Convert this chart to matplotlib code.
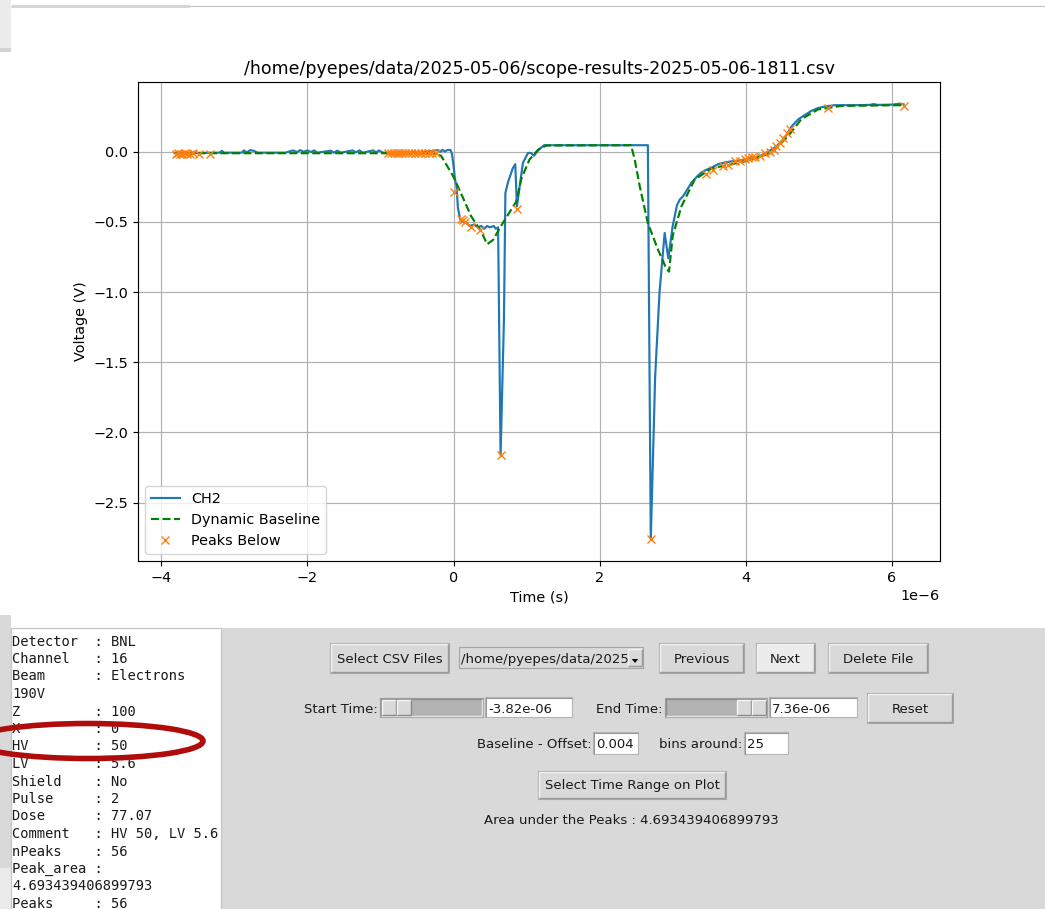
import numpy as np
import matplotlib
matplotlib.use("Agg")
import matplotlib.pyplot as plt
from matplotlib.patches import Rectangle, Ellipse, Polygon

# ---------------------------------------------------------------- data
file_name = "/home/pyepes/data/2025-05-06/scope-results-2025-05-06-1811.csv"

# CH2 waveform (time in microseconds, voltage in V)
ch2_t_us = [-3.82, -3.70, -3.55, -3.40, -3.20, -3.17, -3.14, -2.90, -2.87, -2.83,
            -2.78, -2.73, -2.68, -2.30, -2.20, -2.14, -2.10, -2.05, -2.00, -1.95,
            -1.91, -1.86, -1.68, -1.64, -1.59, -1.54, -1.38, -1.34, -1.29, -1.24,
            -1.10, -1.06, -1.02, -0.97, -0.60, -0.40, -0.22, -0.18, -0.15, -0.12,
            -0.08, -0.04, -0.02, 0.00, 0.02, 0.04, 0.06, 0.09, 0.12, 0.18,
            0.22, 0.28, 0.33, 0.38, 0.42, 0.46, 0.50, 0.55, 0.58, 0.61,
            0.644, 0.69, 0.71, 0.745, 0.81, 0.845, 0.868, 0.95, 1.02, 1.06,
            1.10, 1.16, 1.24, 2.66, 2.70, 2.76, 2.82, 2.89, 2.94, 3.00,
            3.06, 3.10, 3.14, 3.20, 3.26, 3.33, 3.39, 3.46, 3.55, 3.62,
            3.70, 3.80, 3.90, 3.99, 4.10, 4.20, 4.31, 4.40, 4.49, 4.56,
            4.63, 4.72, 4.81, 4.90, 4.99, 5.10, 5.22, 5.50, 5.70, 5.75,
            5.80, 6.00, 6.10, 6.16]
ch2_v = [-0.010, -0.008, -0.010, -0.009, -0.008, 0.005, -0.008, -0.008, 0.008, -0.006,
         0.010, 0.004, -0.008, -0.008, 0.008, -0.004, 0.010, -0.002, 0.008, -0.004,
         0.008, -0.008, 0.006, -0.008, 0.006, -0.008, 0.008, -0.006, 0.008, -0.008,
         0.008, -0.006, 0.008, -0.008, -0.006, -0.005, 0.010, -0.002, 0.012, 0.000,
         0.012, 0.010, -0.020, -0.100, -0.200, -0.240, -0.400, -0.480, -0.500, -0.510,
         -0.530, -0.520, -0.540, -0.530, -0.550, -0.530, -0.540, -0.530, -0.550, -0.540,
         -2.160, -1.200, -0.295, -0.220, -0.120, -0.090, -0.390, -0.080, -0.010, -0.010,
         -0.030, 0.010, 0.045, 0.045, -2.760, -1.600, -1.000, -0.580, -0.760, -0.530,
         -0.380, -0.340, -0.320, -0.270, -0.220, -0.180, -0.150, -0.130, -0.110, -0.090,
         -0.080, -0.070, -0.065, -0.057, -0.045, -0.030, 0.000, 0.030, 0.070, 0.120,
         0.180, 0.230, 0.260, 0.290, 0.310, 0.322, 0.330, 0.330, 0.332, 0.338,
         0.332, 0.334, 0.340, 0.336]

# Dynamic baseline
base_t_us = [-3.82, -0.30, -0.17, 0.00, 0.13, 0.24, 0.38, 0.46, 0.54, 0.65,
             0.77, 0.86, 0.93, 1.04, 1.16, 1.27, 2.43, 2.48, 2.55, 2.66,
             2.80, 2.91, 2.95, 3.00, 3.12, 3.30, 3.53, 3.99, 4.35, 4.58,
             4.76, 4.99, 5.31, 6.16]
base_v = [-0.012, -0.012, -0.030, -0.180, -0.330, -0.460, -0.570, -0.660, -0.630, -0.530,
          -0.430, -0.355, -0.190, -0.057, 0.014, 0.043, 0.045, -0.057, -0.250, -0.510,
          -0.700, -0.830, -0.855, -0.600, -0.390, -0.200, -0.120, -0.070, -0.010, 0.110,
          0.230, 0.300, 0.325, 0.330]

# Peaks below the baseline
peak_t_us = [-3.80, -3.77, -3.74, -3.71, -3.68, -3.65, -3.61, -3.56, -3.48, -3.34,
             -0.90, -0.86, -0.82, -0.78, -0.74, -0.70, -0.66, -0.62, -0.58, -0.53,
             -0.49, -0.44, -0.39, -0.34, -0.29, -0.24,
             0.01, 0.10, 0.13, 0.16, 0.24, 0.36, 0.644, 0.87, 2.70,
             3.46, 3.55, 3.69, 3.76, 3.85, 3.92, 3.99, 4.03, 4.08, 4.12,
             4.19, 4.26, 4.33, 4.38, 4.42, 4.47, 4.51, 4.56, 4.60,
             5.13, 6.16]
peak_v = [-0.015, -0.014, -0.016, -0.015, -0.014, -0.016, -0.015, -0.014, -0.015, -0.016,
          -0.012, -0.010, -0.012, -0.011, -0.010, -0.012, -0.011, -0.010, -0.012, -0.010,
          -0.011, -0.012, -0.010, -0.011, -0.012, -0.010,
          -0.290, -0.480, -0.490, -0.500, -0.540, -0.557, -2.160, -0.410, -2.760,
          -0.160, -0.130, -0.100, -0.093, -0.069, -0.069, -0.052, -0.048, -0.040, -0.038,
          -0.030, -0.014, -0.005, 0.014, 0.038, 0.062, 0.098, 0.134, 0.162,
          0.310, 0.326]

info_lines = [
    "Detector  : BNL",
    "Channel   : 16",
    "Beam      : Electrons",
    "190V",
    "Z         : 100",
    "X         : 0",
    "HV        : 50",
    "LV        : 5.6",
    "Shield    : No",
    "Pulse     : 2",
    "Dose      : 77.07",
    "Comment   : HV 50, LV 5.6",
    "nPeaks    : 56",
    "Peak_area :",
    "4.693439406899793",
    "Peaks     : 56",
]
combo_text = "/home/pyepes/data/2025"
start_time = "-3.82e-06"
end_time = "7.36e-06"
baseline_offset = "0.004"
bins_around = "25"
peak_area = "4.693439406899793"

# ---------------------------------------------------------------- style
S = 1.04
plt.rcParams.update({
    "font.size": 10 * S,
    "lines.linewidth": 1.5 * S,
    "lines.markersize": 6 * S,
    "axes.linewidth": 0.8 * S,
    "grid.linewidth": 0.8 * S,
    "xtick.major.size": 3.5 * S,
    "ytick.major.size": 3.5 * S,
    "xtick.major.width": 0.8 * S,
    "ytick.major.width": 0.8 * S,
})

# ---------------------------------------------------------------- figure
W, H = 1045, 909
fig = plt.figure(figsize=(W / 100, H / 100), dpi=100, facecolor="white")

# pixel-coordinate layer for the window chrome and controls
gui = fig.add_axes([0, 0, 1, 1])
gui.set_xlim(0, W)
gui.set_ylim(H, 0)
gui.axis("off")

BG = "#d9d9d9"
UI_FONT = dict(family="DejaVu Sans", fontsize=9.5, color="#1a1a1a")


def rect(x0, y0, x1, y1, fc, ec="none", lw=0.8, z=1):
    gui.add_patch(Rectangle((x0, y0), x1 - x0, y1 - y0, facecolor=fc,
                            edgecolor=ec, lw=lw, zorder=z))


def seg(xs, ys, c, lw=1.0, z=2):
    gui.plot(xs, ys, color=c, lw=lw, zorder=z, solid_capstyle="butt")


def bevel(x0, y0, x1, y1, light, dark, z=2):
    seg([x0, x1], [y0, y0], light, z=z)
    seg([x0, x0], [y0, y1], light, z=z)
    seg([x0, x1], [y1, y1], dark, z=z)
    seg([x1, x1], [y0, y1], dark, z=z)


def button(x0, y0, x1, y1, label, base, face=BG):
    rect(x0, y0, x1, y1, face, "#a9a9a9", lw=0.8)
    bevel(x0 + 1.2, y0 + 1.2, x1 - 1.2, y1 - 1.2, "#f4f4f4", "#9a9a9a")
    gui.text((x0 + x1) / 2, base, label, ha="center", va="baseline", zorder=3, **UI_FONT)


def entry(x0, y0, x1, y1, value, base):
    rect(x0, y0, x1, y1, "white", "#b5b5b5", lw=0.8)
    seg([x0 + 0.8, x1], [y0 + 0.8, y0 + 0.8], "#9a9a9a", lw=0.8, z=3)
    seg([x0 + 0.8, x0 + 0.8], [y0, y1], "#9a9a9a", lw=0.8, z=3)
    gui.text(x0 + 3, base, value, ha="left", va="baseline", zorder=3, **UI_FONT)


def scale(x0, y0, x1, y1, h0, h1):
    rect(x0, y0, x1, y1, "#b3b3b3", "#9c9c9c", lw=0.8)
    bevel(x0 + 0.8, y0 + 0.8, x1 - 0.8, y1 - 0.8, "#8e8e8e", "#e6e6e6")
    hy0, hy1 = y0 + 2, y1 - 2
    mid = (h0 + h1) / 2
    rect(h0, hy0, h1, hy1, BG, "none")
    bevel(h0, hy0, mid - 0.6, hy1, "#f6f6f6", "#8a8a8a", z=3)
    bevel(mid + 0.6, hy0, h1, hy1, "#f6f6f6", "#8a8a8a", z=3)


def label(x, base, s, ha="right"):
    gui.text(x, base, s, ha=ha, va="baseline", zorder=3, **UI_FONT)


# window chrome above the canvas
rect(0, 0, 11, 48, "#ececec")
rect(0, 48, 11, 52, "#d2d2d2")
seg([11, 190], [6, 6], "#d6d6d6", lw=2.2)
seg([190, W], [5.5, 5.5], "#c2c2c2", lw=0.8)

# control area
rect(0, 615, 11, 868, BG)
rect(0, 868, 11, H, "#ebebeb")
rect(221, 628, W, H, BG)
rect(11, 628, 221, H + 2, "white", "#c6c6c6", lw=0.9)

# info text panel
for k, line in enumerate(info_lines):
    gui.text(12.5, 645.5 + 17.5 * k, line, ha="left", va="baseline",
             family="DejaVu Sans Mono", fontsize=9.9, color="#1a1a1a", zorder=3)

# highlight ring around the HV entry
gui.add_patch(Ellipse((88, 741), 230, 35, facecolor="none",
                      edgecolor="#b00c0c", lw=4.0, zorder=6))

# row 1: file controls
button(330, 643, 449, 673, "Select CSV Files", 663)
rect(459, 647, 643, 668, "#dadada", "#a4a4a4", lw=0.8)
gui.text(461, 663, combo_text, ha="left", va="baseline", zorder=3, **UI_FONT)
rect(628, 649, 641.5, 666, BG, "none", z=3)
bevel(628, 649, 641.5, 666, "#f4f4f4", "#9a9a9a", z=4)
gui.add_patch(Polygon([[631.8, 659.0], [638.2, 659.0], [635.0, 663.0]],
                      closed=True, facecolor="black", edgecolor="none", zorder=5))
button(659, 643, 744, 673, "Previous", 663)
button(756, 643, 815, 673, "Next", 663, face="#ececec")
button(828, 643, 928, 673, "Delete File", 663)

# row 2: time range
label(378, 712.7, "Start Time:")
scale(380, 698, 483, 717, 382, 411)
entry(485, 697, 572, 717, start_time, 712.7)
label(663, 712.7, "End Time:")
scale(665, 698, 767, 717, 737, 766)
entry(769, 697, 857, 717, end_time, 712.7)
button(867, 693, 953, 723, "Reset", 713)

# row 3: baseline settings
label(592, 748.5, "Baseline - Offset:")
entry(593, 732, 638, 754, baseline_offset, 748.5)
label(742, 748.5, "bins around:")
entry(744, 732, 788, 754, bins_around, 748.5)

# row 4/5
button(538, 771, 726, 799, "Select Time Range on Plot", 789.5)
gui.text(631.5, 824.3, "Area under the Peaks : " + peak_area,
         ha="center", va="baseline", zorder=3, **UI_FONT)

# ---------------------------------------------------------------- plot
ax = fig.add_axes([138 / W, (H - 561) / H, (940 - 138) / W, (561 - 82) / H])
us = 1e-6
ax.plot(np.array(ch2_t_us) * us, ch2_v, label="CH2")
ax.plot(np.array(base_t_us) * us, base_v, "g--", label="Dynamic Baseline")
ax.plot(np.array(peak_t_us) * us, peak_v, "x", label="Peaks Below")
ax.set_title(file_name)
ax.set_xlabel("Time (s)")
ax.set_ylabel("Voltage (V)")
ax.grid(True)
ax.legend(loc="lower left")

fig.savefig("out.png", dpi=100, facecolor="white")
